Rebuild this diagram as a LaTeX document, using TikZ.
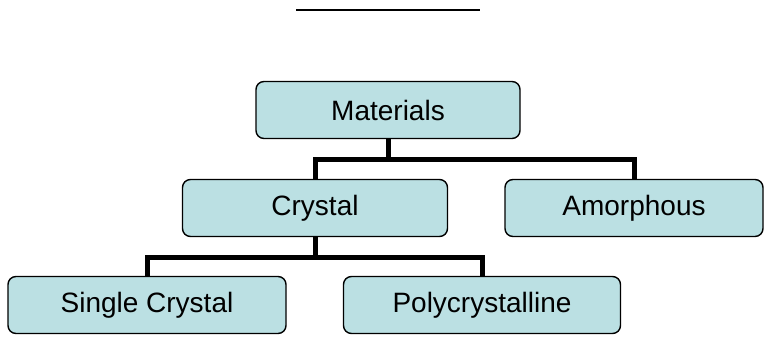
\documentclass[tikz,border=0pt]{standalone}
\usepackage{fontspec}
\setmainfont{Liberation Sans}
\definecolor{boxfill}{RGB}{187,224,227}
\tikzset{
	orgbox/.style={draw=black, fill=boxfill, rounded corners=8pt, line width=1.4pt,
		minimum height=57pt, inner sep=0pt, font=\fontsize{28}{32}\selectfont},
	orgline/.style={line width=5pt}
}
\begin{document}
\begin{tikzpicture}[x=1pt,y=1pt]
	\useasboundingbox (0,0) rectangle (764,338);
	% title rule
	\draw[line width=2pt] (296,328) -- (480,328);

	\node[orgbox, minimum width=264pt] (mat) at (388,228) {Materials};
	\node[orgbox, minimum width=265pt] (cry) at (315,130) {Crystal};
	\node[orgbox, minimum width=258pt] (amo) at (634,130) {Amorphous};
	\node[orgbox, minimum width=278pt] (sgl) at (147,33) {Single Crystal};
	\node[orgbox, minimum width=277pt] (pol) at (482,33) {Polycrystalline};

	\draw[orgline] (mat.south) -- ++(0,-20) -| (cry.north);
	\draw[orgline] (mat.south) -- ++(0,-20) -| (amo.north);
	\draw[orgline] (cry.south) -- ++(0,-20) -| (sgl.north);
	\draw[orgline] (cry.south) -- ++(0,-20) -| (pol.north);
\end{tikzpicture}
\end{document}
